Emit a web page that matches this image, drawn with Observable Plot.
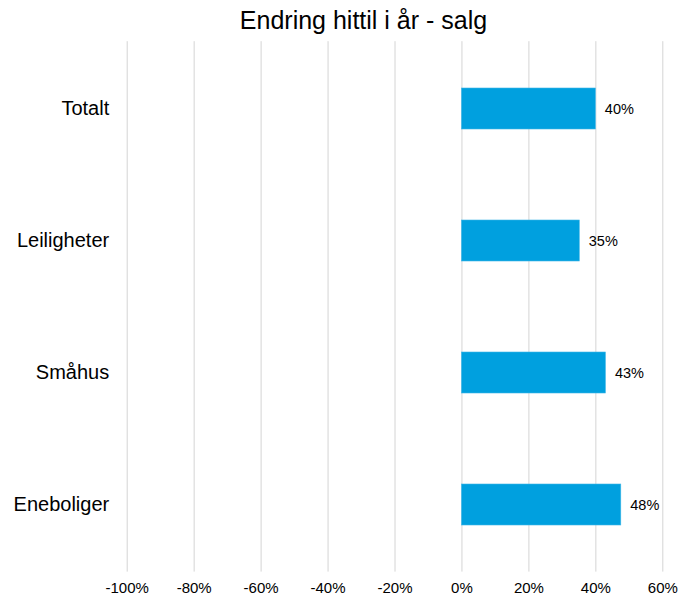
<!DOCTYPE html>
<html>
<head>
<meta charset="utf-8">
<script src="https://cdn.jsdelivr.net/npm/d3@7"></script>
<script src="https://cdn.jsdelivr.net/npm/@observablehq/plot@0.6"></script>
<style>
  html, body { margin: 0; padding: 0; background: #fff; }
  #wrap { position: relative; width: 681px; height: 597px; font-family: "Liberation Sans", Arial, sans-serif; }
  #title { position: absolute; left: 0; top: 5px; width: 727px; text-align: center; font-size: 25px; color: #000; line-height: 30px; }
  #chart { position: absolute; left: 0; top: 0; }
</style>
</head>
<body>
<div id="wrap">
  <div id="chart"></div>
  <div id="title">Endring hittil i år - salg</div>
</div>
<script>
const categories = ["Totalt", "Leiligheter", "Småhus", "Eneboliger"];
const values = [0.40, 0.352, 0.43, 0.476];
const labels = ["40%", "35%", "43%", "48%"];
const xTicks = [-1, -0.8, -0.6, -0.4, -0.2, 0, 0.2, 0.4, 0.6];

const data = categories.map((c, i) => ({cat: c, value: values[i], label: labels[i]}));

const chart = Plot.plot({
  width: 681,
  height: 597,
  marginLeft: 126.7,
  marginRight: 18.7,
  marginTop: 41.2,
  marginBottom: 25.4,
  style: {fontFamily: "'Liberation Sans', Arial, sans-serif", background: "#fff", color: "#000", overflow: "visible"},
  x: {domain: [-1, 0.6], ticks: xTicks, label: null},
  y: {domain: categories, paddingInner: 0.687, paddingOuter: 0.3435, label: null},
  marks: [
    Plot.gridX(xTicks, {stroke: "#d4d4d4", strokeOpacity: 1, strokeWidth: 1}),
    Plot.barX(data, {x1: 0, x2: "value", y: "cat", fill: "#00a0df", stroke: "#3fb6e8", strokeWidth: 0.6}),
    Plot.text(data, {x: "value", y: "cat", text: "label", textAnchor: "start", dx: 9, fontSize: 14.5, fill: "#000"}),
    Plot.axisX(xTicks, {tickSize: 0, tickPadding: 10, tickFormat: d => Math.round(d * 100) + "%", fontSize: 15, fill: "#000"}),
    Plot.axisY({tickSize: 0, tickPadding: 18, fontSize: 20, fill: "#000"})
  ]
});
document.getElementById("chart").appendChild(chart);
</script>
</body>
</html>
